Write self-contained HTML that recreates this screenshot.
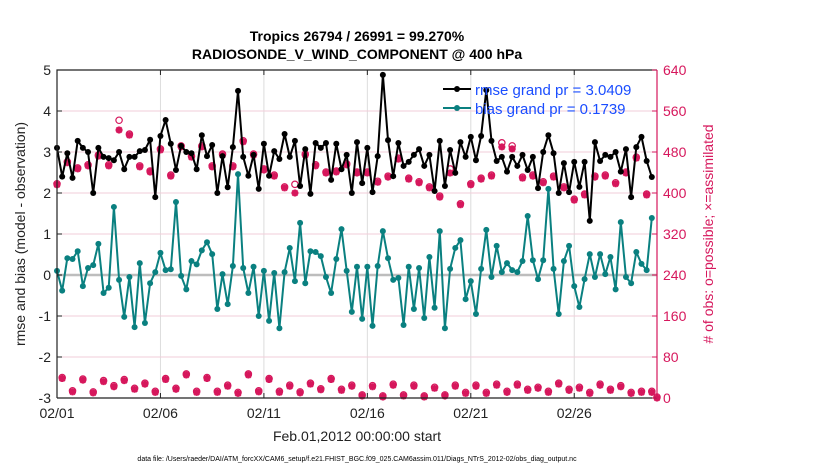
<!DOCTYPE html>
<html><head><meta charset="utf-8"><style>
body{margin:0;background:#fff;}
svg{display:block;font-family:"Liberation Sans",sans-serif;}
</style></head><body>
<svg id="chart" width="830" height="470" viewBox="0 0 830 470" xmlns="http://www.w3.org/2000/svg">
<rect width="830" height="470" fill="#fff"/>
<g id="grid"></g><g id="series"></g><g id="axes"></g>
</svg>
<script>
const rmse=[3.1,2.4,2.97,2.37,3.27,3.1,3.0,2.0,3.1,2.88,2.85,2.8,3.0,2.58,2.88,2.88,3.02,3.05,3.3,1.9,3.39,3.78,3.2,2.56,3.15,3.0,2.97,2.58,3.41,2.9,
3.17,2.0,2.9,2.14,3.12,4.49,2.88,2.42,2.93,2.1,3.2,2.42,3.02,2.83,3.44,2.88,3.27,2.17,3.07,1.98,3.22,3.1,3.22,2.32,3.2,2.58,2.93,2.0,3.24,
2.24,3.1,2.02,2.9,4.88,3.29,2.41,3.22,2.66,2.76,2.93,3.07,2.66,2.93,2.05,3.27,2.17,3.05,2.49,3.24,2.88,3.37,2.8,3.39,4.51,3.27,2.78,2.88,2.52,
2.88,2.66,2.93,2.56,2.88,2.12,3.0,3.41,2.97,2.0,2.73,2.02,2.76,2.15,2.76,1.32,3.24,2.78,2.93,2.88,3.0,2.52,3.07,1.9,3.12,3.37,2.78,2.39];
const bias=[0.1,-0.38,0.41,0.39,0.58,-0.27,0.17,0.24,0.76,-0.44,-0.31,1.66,-0.12,-1.02,-0.05,-1.27,0.29,-1.17,-0.2,0.07,0.54,0.12,0.14,1.78,-0.02,-0.35,0.34,0.26,0.6,0.8,
0.51,-0.83,0.02,-0.71,0.22,2.46,0.17,-0.44,0.2,-1.0,0.1,-1.12,0.05,-1.3,0.07,0.66,-0.15,1.27,-0.2,0.58,0.56,0.46,-0.05,-0.44,0.39,1.12,0.1,-0.9,0.2,
-1.07,0.2,-1.24,0.22,1.07,0.41,-0.12,-0.07,-1.22,0.2,-0.83,0.17,-1.05,0.44,-0.8,1.07,-1.3,0.15,0.66,0.85,-0.59,-0.15,-0.95,0.15,1.1,-0.05,0.71,0.07,0.29,
0.12,0.07,0.34,1.44,0.36,-0.1,0.36,2.1,0.15,-0.95,0.34,0.71,-0.27,-0.78,-0.1,0.51,-0.05,0.51,0.02,0.44,-0.35,1.29,-0.05,-0.2,0.56,0.27,0.12,1.39];
const obsUsed=[416,38,459,12,447,35,453,10,472,32,453,22,523,34,513,17,451,27,441,11,484,36,433,17,490,45,470,11,490,38,
451,11,474,23,451,9,500,45,474,12,445,36,433,11,410,23,400,10,474,27,453,16,439,36,441,15,455,23,439,4,
439,22,421,2,431,25,466,4,427,23,420,2,410,19,392,4,439,23,377,9,416,23,427,9,433,25,490,11,486,25,
429,15,433,19,420,11,431,27,410,15,386,19,396,9,431,25,433,15,418,22,439,9,468,11,396,11,0];
const obsPossible=[416,38,459,12,447,35,453,10,472,32,453,22,540,34,513,17,451,27,441,11,484,36,433,17,490,45,470,11,490,38,
451,11,474,23,451,9,500,45,474,12,445,36,433,11,410,23,415,10,474,27,453,16,439,36,441,15,455,23,439,4,
439,22,421,2,431,25,466,4,427,23,420,2,410,19,392,4,445,23,377,9,416,23,427,9,433,25,496,11,490,25,
429,15,433,19,420,11,431,27,410,15,386,19,396,9,431,25,433,15,418,22,439,9,468,11,396,11,0];
const leftTicks=[5,4,3,2,1,0,-1,-2,-3];
const rightTicks=[640,560,480,400,320,240,160,80,0];
const xTickDays=[0,5,10,15,20,25];
const xTickLabels=["02/01","02/06","02/11","02/16","02/21","02/26"];

const X0=57,X1=657,Y0=70,Y1=398;
const xS=d=>X0+d*(X1-X0)/29;
const yL=v=>Y1-(v+3)*(Y1-Y0)/8;
const yR=v=>Y1-v*(Y1-Y0)/640;
const NS="http://www.w3.org/2000/svg";
const PINK="#d6175c",TEAL="#0a8080";
function mk(parent,tag,attrs,text){const e=document.createElementNS(NS,tag);for(const k in attrs)e.setAttribute(k,attrs[k]);if(text!==undefined)e.textContent=text;parent.appendChild(e);return e;}
const grid=document.getElementById('grid'),ser=document.getElementById('series'),ax=document.getElementById('axes');

xTickDays.forEach(d=>{const l=mk(grid,'line',{x1:xS(d),x2:xS(d),y1:Y0,y2:Y1,stroke:'#dcdcdc','stroke-width':1});

});
rightTicks.forEach(v=>{const l=mk(grid,'line',{x1:X0,x2:X1,y1:yR(v),y2:yR(v),stroke:'#f2cdd9','stroke-width':1});

});
const zl=mk(grid,'line',{x1:X0,x2:X1,y1:yL(0),y2:yL(0),stroke:'#bdbdbd','stroke-width':2.5});



function star(g,x,y){mk(g,'path',{d:`M${x-3.5},${y}H${x+3.5}M${x},${y-3.5}V${y+3.5}M${x-2.6},${y-2.6}L${x+2.6},${y+2.6}M${x-2.6},${y+2.6}L${x+2.6},${y-2.6}`,stroke:PINK,'stroke-width':2.2,fill:'none'});}

// obs counts
const gPoss=mk(ser,'g',{});


obsPossible.forEach((v,i)=>{const c=mk(gPoss,'circle',{cx:xS(i/4),cy:yR(v)-1,r:3.2,fill:'none',stroke:PINK,'stroke-width':1.2});

});
const gUsed=mk(ser,'g',{});


obsUsed.forEach((v,i)=>star(gUsed,xS(i/4),yR(v)));

function line(arr,color,name){const g=mk(ser,'g',{});


const d=arr.map((v,i)=>(i?'L':'M')+xS(i/4).toFixed(1)+','+yL(v).toFixed(1)).join('');
mk(g,'path',{d:d,stroke:color,'stroke-width':2,fill:'none','stroke-linejoin':'round'});
arr.forEach((v,i)=>{const c=mk(g,'circle',{cx:xS(i/4),cy:yL(v),r:3,fill:color});

});}
line(bias,TEAL,'bias-series');
line(rmse,'#000','rmse-series');

// frame
mk(ax,'path',{d:`M${X0},${Y1}V${Y0}H${X1}`,stroke:'#222','stroke-width':1.2,fill:'none'});
mk(ax,'line',{x1:X0,x2:X1,y1:Y1,y2:Y1,stroke:'#222','stroke-width':1.2});
mk(ax,'line',{x1:X1,x2:X1,y1:Y0,y2:Y1,stroke:PINK,'stroke-width':1.2});
leftTicks.forEach(v=>{mk(ax,'line',{x1:X0,x2:X0+5,y1:yL(v),y2:yL(v),stroke:'#222'});
const t=mk(ax,'text',{x:X0-6,y:yL(v)+5,'text-anchor':'end','font-size':14,fill:'#222'},String(v));

});
rightTicks.forEach(v=>{mk(ax,'line',{x1:X1-5,x2:X1,y1:yR(v),y2:yR(v),stroke:PINK});
const t=mk(ax,'text',{x:X1+6,y:yR(v)+5,'font-size':14,fill:PINK},String(v));

});
xTickDays.forEach((d,i)=>{mk(ax,'line',{x1:xS(d),x2:xS(d),y1:Y1,y2:Y1-5,stroke:'#222'});mk(ax,'line',{x1:xS(d),x2:xS(d),y1:Y0,y2:Y0+5,stroke:'#222'});
const t=mk(ax,'text',{x:xS(d),y:Y1+20,'text-anchor':'middle','font-size':14,fill:'#222'},xTickLabels[i]);

});
</script>
<svg style="position:absolute;left:0;top:0" width="830" height="470" xmlns="http://www.w3.org/2000/svg">
<text x="357" y="41" text-anchor="middle" font-size="14" font-weight="bold" fill="#000">Tropics 26794 / 26991 = 99.270%</text>
<text x="357" y="59" text-anchor="middle" font-size="14" font-weight="bold" fill="#000">RADIOSONDE_V_WIND_COMPONENT @ 400 hPa</text>
<text transform="translate(25,234) rotate(-90)" text-anchor="middle" font-size="14" fill="#222">rmse and bias (model - observation)</text>
<text transform="translate(713,234) rotate(-90)" text-anchor="middle" font-size="14" fill="#d6175c"># of obs: o=possible; ×=assimilated</text>
<text x="357" y="441" text-anchor="middle" font-size="14" fill="#222">Feb.01,2012 00:00:00 start</text>
<text x="357" y="461" text-anchor="middle" font-size="7" fill="#000">data file: /Users/raeder/DAI/ATM_forcXX/CAM6_setup/f.e21.FHIST_BGC.f09_025.CAM6assim.011/Diags_NTrS_2012-02/obs_diag_output.nc</text>
<g>
<line x1="443" x2="471" y1="89" y2="89" stroke="#000" stroke-width="2"/><circle cx="457" cy="89" r="3" fill="#000"/>
<text x="475" y="95" font-size="15" fill="#1a4dff">rmse grand pr = 3.0409</text>
<line x1="443" x2="471" y1="108" y2="108" stroke="#0a8080" stroke-width="2"/><circle cx="457" cy="108" r="3" fill="#0a8080"/>
<text x="475" y="114" font-size="15" fill="#1a4dff">bias grand pr = 0.1739</text>
</g>
</svg>
</body></html>
